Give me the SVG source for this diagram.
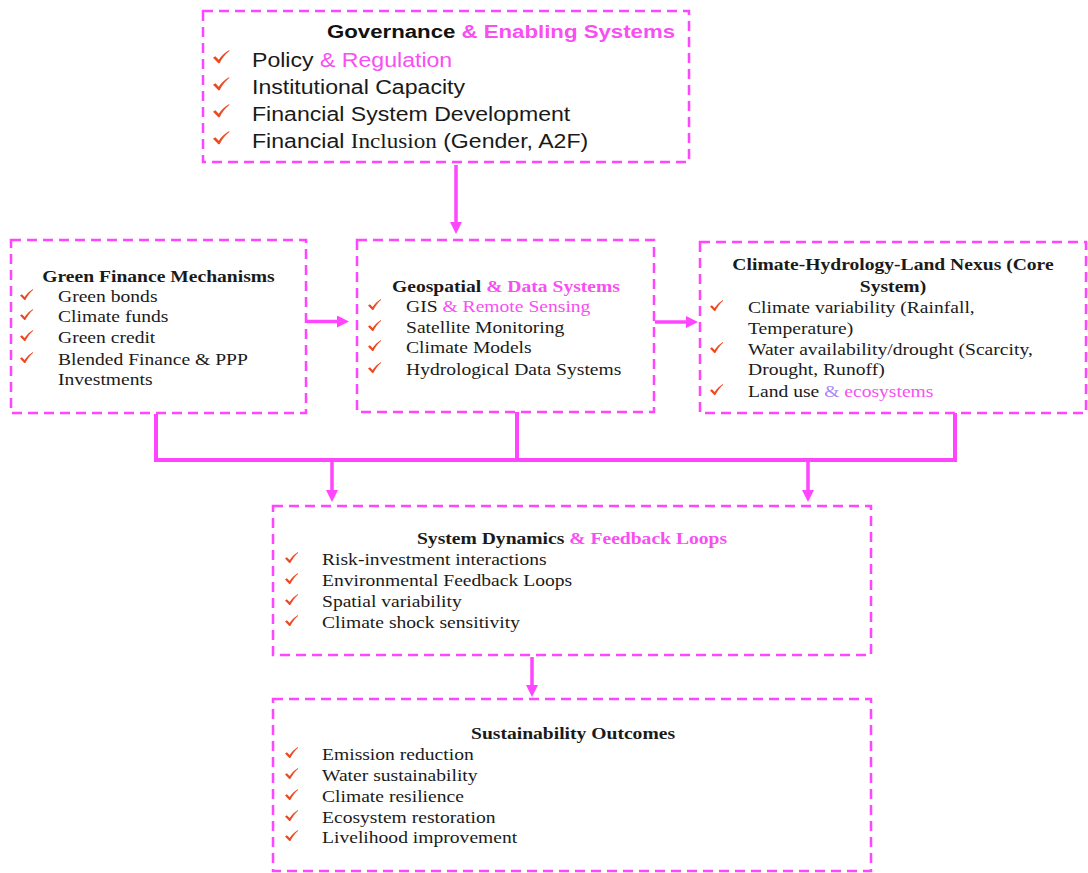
<svg xmlns="http://www.w3.org/2000/svg" xmlns:xlink="http://www.w3.org/1999/xlink" width="1088" height="873" viewBox="0 0 1088 873">
<style>
.box{fill:none;stroke:#FF45FF;stroke-width:2.5;stroke-dasharray:10 6}
.conn{fill:none;stroke:#FF45FF;stroke-width:4}
.arr{fill:none;stroke:#FF45FF;stroke-width:3.5;marker-end:url(#ah)}
.s{font-family:"Liberation Serif","Times New Roman",serif;font-size:17.5px;fill:#1a1a1a}
.sb{font-family:"Liberation Serif","Times New Roman",serif;font-size:17.5px;font-weight:bold;fill:#1a1a1a}
.g{font-family:"Liberation Sans",Arial,sans-serif;font-size:21px;fill:#1a1a1a}
.gb{font-family:"Liberation Sans",Arial,sans-serif;font-size:19px;font-weight:bold;fill:#111}
.p{fill:#F84FF2}
.ck{fill:#EC4A22}
</style>
<defs>
<marker id="ah" viewBox="0 0 12 12" refX="0" refY="6" markerWidth="12" markerHeight="12" markerUnits="userSpaceOnUse" orient="auto">
<path d="M0,0 L12,6 L0,12 z" fill="#FF45FF"/>
</marker>
<path id="chk" class="ck" d="M0,6.5 L1.9,5.2 L4.6,8.1 C6.8,4.8 9.6,2 13,0 L13,0.9 C10,3.3 7.3,6.9 5.3,11 L4.3,11 Z"/>
</defs>

<g id="connectors">
<line class="arr" x1="456" y1="165" x2="456" y2="222"/>
<line class="arr" x1="307" y1="321.5" x2="337" y2="321.5"/>
<line class="arr" x1="655" y1="322" x2="686" y2="322"/>
<polyline class="conn" points="156,414 156,460 955,460 955,413"/>
<line class="conn" x1="517" y1="412" x2="517" y2="460"/>
<line class="arr" x1="332" y1="462" x2="332" y2="490"/>
<line class="arr" x1="808" y1="462" x2="808" y2="490"/>
<line class="arr" x1="532" y1="657" x2="532" y2="685"/>
</g>

<g id="governance">
<rect class="box" x="203" y="11" width="486" height="151"/>
<text class="gb" transform="translate(327,38) scale(1.17,1)">Governance<tspan class="p"> &amp; Enabling Systems</tspan></text>
<use href="#chk" transform="translate(213,50) scale(1.25,1.2)"/>
<use href="#chk" transform="translate(213,77) scale(1.25,1.2)"/>
<use href="#chk" transform="translate(213,104) scale(1.25,1.2)"/>
<use href="#chk" transform="translate(213,131) scale(1.25,1.2)"/>
<text class="g" transform="translate(252,67) scale(1.1,1)">Policy<tspan class="p"> &amp; Regulation</tspan></text>
<text class="g" transform="translate(252,94) scale(1.1,1)">Institutional Capacity</text>
<text class="g" transform="translate(252,121) scale(1.1,1)">Financial System Development</text>
<text class="g" transform="translate(252,148) scale(1.1,1)">Financial <tspan font-family="Liberation Serif, serif">Inclusion</tspan> (Gender, A2F)</text>
</g>

<g id="green-finance">
<rect class="box" x="11" y="240" width="295" height="173"/>
<text class="sb" text-anchor="middle" transform="translate(158.5,282) scale(1.12,1)">Green Finance Mechanisms</text>
<use href="#chk" x="20" y="289"/>
<use href="#chk" x="20" y="309"/>
<use href="#chk" x="20" y="330"/>
<use href="#chk" x="20" y="352"/>
<text class="s" transform="translate(58,302) scale(1.12,1)">Green bonds</text>
<text class="s" transform="translate(58,322) scale(1.12,1)">Climate funds</text>
<text class="s" transform="translate(58,343) scale(1.12,1)">Green credit</text>
<text class="s" transform="translate(58,365) scale(1.12,1)">Blended Finance &amp; PPP</text>
<text class="s" transform="translate(58,385) scale(1.12,1)">Investments</text>
</g>

<g id="geospatial">
<rect class="box" x="357" y="240" width="297" height="172"/>
<text class="sb" text-anchor="middle" transform="translate(506,292) scale(1.12,1)">Geospatial<tspan class="p"> &amp; Data Systems</tspan></text>
<use href="#chk" x="368" y="299"/>
<use href="#chk" x="368" y="320"/>
<use href="#chk" x="368" y="340"/>
<use href="#chk" x="368" y="362"/>
<text class="s" transform="translate(406,312) scale(1.12,1)">GIS<tspan class="p"> &amp; Remote Sensing</tspan></text>
<text class="s" transform="translate(406,333) scale(1.12,1)">Satellite Monitoring</text>
<text class="s" transform="translate(406,353) scale(1.12,1)">Climate Models</text>
<text class="s" transform="translate(406,375) scale(1.12,1)">Hydrological Data Systems</text>
</g>

<g id="nexus">
<rect class="box" x="700" y="242" width="386" height="171"/>
<text class="sb" text-anchor="middle" transform="translate(893,270) scale(1.12,1)">Climate-Hydrology-Land Nexus (Core</text>
<text class="sb" text-anchor="middle" transform="translate(893,292) scale(1.12,1)">System)</text>
<use href="#chk" x="710" y="300"/>
<use href="#chk" x="710" y="342"/>
<use href="#chk" x="710" y="384"/>
<text class="s" transform="translate(748,313) scale(1.12,1)">Climate variability (Rainfall,</text>
<text class="s" transform="translate(748,334) scale(1.12,1)">Temperature)</text>
<text class="s" transform="translate(748,355) scale(1.12,1)">Water availability/drought (Scarcity,</text>
<text class="s" transform="translate(748,375) scale(1.12,1)">Drought, Runoff)</text>
<text class="s" transform="translate(748,397) scale(1.12,1)">Land use <tspan fill="#A98AF5">&amp;</tspan><tspan class="p"> ecosystems</tspan></text>
</g>

<g id="system-dynamics">
<rect class="box" x="273" y="506" width="598" height="149"/>
<text class="sb" text-anchor="middle" transform="translate(572,544) scale(1.12,1)">System Dynamics<tspan class="p"> &amp; Feedback Loops</tspan></text>
<use href="#chk" x="285" y="552"/>
<use href="#chk" x="285" y="573"/>
<use href="#chk" x="285" y="594"/>
<use href="#chk" x="285" y="615"/>
<text class="s" transform="translate(322,565) scale(1.12,1)">Risk-investment interactions</text>
<text class="s" transform="translate(322,586) scale(1.12,1)">Environmental Feedback Loops</text>
<text class="s" transform="translate(322,607) scale(1.12,1)">Spatial variability</text>
<text class="s" transform="translate(322,628) scale(1.12,1)">Climate shock sensitivity</text>
</g>

<g id="outcomes">
<rect class="box" x="273" y="699" width="598" height="172"/>
<text class="sb" text-anchor="middle" transform="translate(573,739) scale(1.12,1)">Sustainability Outcomes</text>
<use href="#chk" x="285" y="747"/>
<use href="#chk" x="285" y="768"/>
<use href="#chk" x="285" y="789"/>
<use href="#chk" x="285" y="810"/>
<use href="#chk" x="285" y="830"/>
<text class="s" transform="translate(322,760) scale(1.12,1)">Emission reduction</text>
<text class="s" transform="translate(322,781) scale(1.12,1)">Water sustainability</text>
<text class="s" transform="translate(322,802) scale(1.12,1)">Climate resilience</text>
<text class="s" transform="translate(322,823) scale(1.12,1)">Ecosystem restoration</text>
<text class="s" transform="translate(322,843) scale(1.12,1)">Livelihood improvement</text>
</g>
</svg>
